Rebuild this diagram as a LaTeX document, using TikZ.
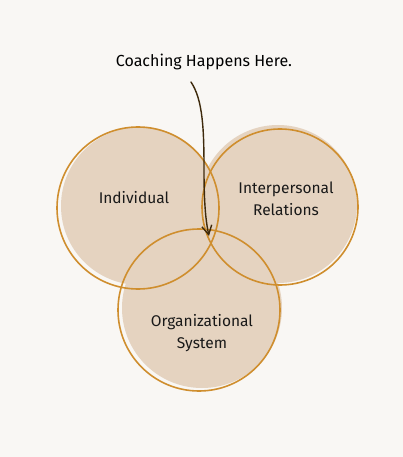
\documentclass[tikz,border=0pt]{standalone}
\usepackage{fontspec}
\setmainfont{Fira Sans}
\usetikzlibrary{arrows.meta}
\definecolor{bg}{HTML}{F9F7F4}
\definecolor{disc}{HTML}{E5D3C0}
\definecolor{ring}{HTML}{CF8E2E}
\definecolor{arr}{HTML}{3E2A0C}
\tikzset{
  px/.style={x=1pt,y=-1pt},
  discfill/.style={fill=disc, draw=none},
  ringline/.style={draw=ring, line width=1.6pt},
  lbl/.style={font=\fontsize{15.5}{22}\selectfont, text=black!90, align=center},
}
\begin{document}
\begin{tikzpicture}[px]
\fill[bg] (0,0) rectangle (403,457);
\useasboundingbox (0,0) rectangle (403,457);
% fills
\fill[discfill] (140,206) circle (79);
\fill[discfill] (278,204) circle (79);
\fill[discfill] (202,308) circle (80);
% rings
\draw[ringline] (138,208) circle (81);
\draw[ringline] (280,207) circle (78);
\draw[ringline] (199,310) circle (81);
% labels
\node[lbl] (ind) at (134,198) {Individual};
\node[lbl] (inter) at (286,199) {Interpersonal\\Relations};
\node[lbl] (org) at (202,333) {Organizational\\System};
\node[lbl, font=\fontsize{16}{18}\selectfont, text=black] (title) at (204,62) {Coaching Happens Here.};
\coordinate (s) at (191,82);
\coordinate (t) at (209,236);
\draw[arr, line width=1.4pt, line cap=round, -{Straight Barb[length=9pt,width=10pt]}]
  (s) .. controls (203,100) and (204,130) .. (204,170)
  .. controls (204,205) and (206,222) .. (t);
\end{tikzpicture}
\end{document}
